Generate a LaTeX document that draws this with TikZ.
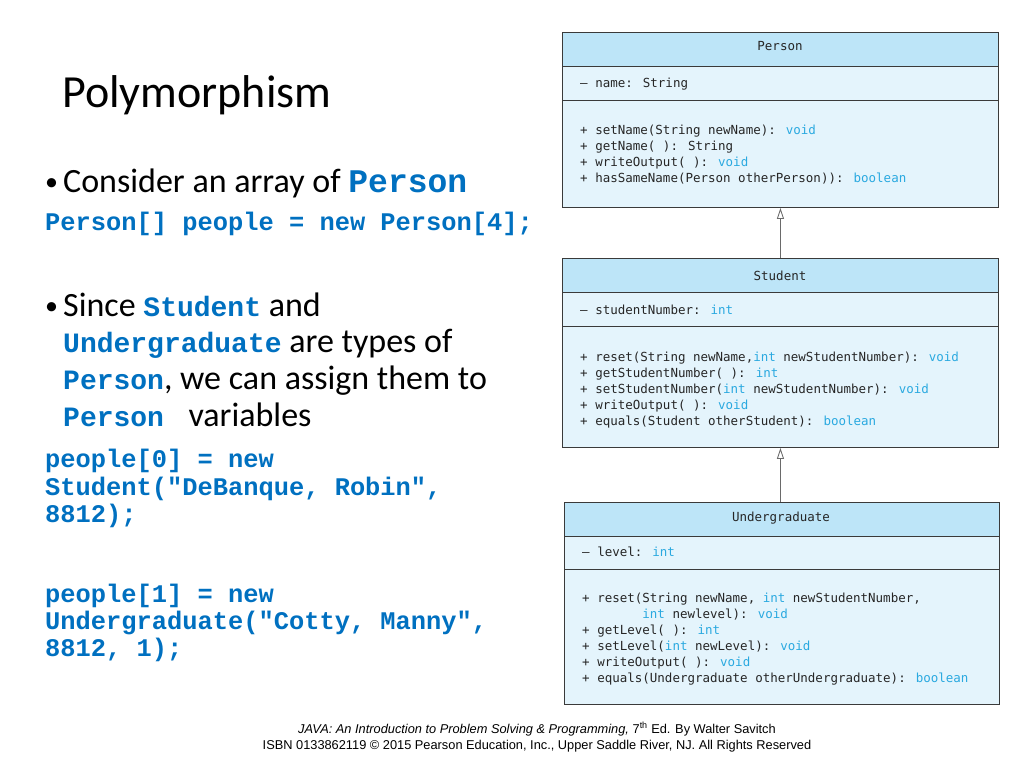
\documentclass[tikz,border=0pt]{standalone}
\usepackage{fontspec}
\setmainfont{Carlito}
\newfontfamily\codefont{Liberation Mono}
\newfontfamily\umlfont{DejaVu Sans Mono}
\newfontfamily\arialfont{Liberation Sans}
\usetikzlibrary{arrows.meta}
\definecolor{umlhead}{HTML}{BDE5F8}
\definecolor{umlbody}{HTML}{E4F4FC}
\definecolor{umlline}{HTML}{3A3A3A}
\definecolor{kwblue}{HTML}{2AA9E0}
\definecolor{umltxt}{HTML}{262626}
\definecolor{codeblue}{HTML}{0070C0}
\definecolor{arrowgray}{HTML}{6A6A6A}
\newcommand\kw[1]{\textcolor{kwblue}{#1}}
\newcommand\ic[1]{{\codefont\bfseries\fontsize{28}{28}\selectfont\color{codeblue}#1}}
\newcommand\icbig[1]{{\codefont\bfseries\fontsize{33}{33}\selectfont\color{codeblue}#1}}
\tikzset{
  umlframe/.style={draw=umlline, line width=0.9pt, anchor=north west, inner sep=0pt, minimum width=436pt},
  umltext/.style={font=\umlfont\fontsize{12.5}{16}\selectfont, text=umltxt, anchor=base west, inner sep=0pt},
  umltitle/.style={font=\umlfont\fontsize{12.5}{16}\selectfont, text=umltxt, anchor=base, inner sep=0pt},
  inherit/.style={draw=arrowgray, line width=0.9pt, -{Triangle[open, length=11pt, width=7pt]}},
  body/.style={font=\fontsize{34}{40}\selectfont, anchor=base west, inner sep=0pt},
  bullet/.style={font=\fontsize{26}{30}\selectfont, anchor=base west, inner sep=0pt},
  code/.style={font=\codefont\bfseries\fontsize{25.4}{28}\selectfont, text=codeblue, anchor=base west, inner sep=0pt},
  foot/.style={font=\arialfont\fontsize{12.8}{14}\selectfont, anchor=base, inner sep=0pt},
}
\begin{document}
\begin{tikzpicture}[x=1pt, y=-1pt]
\useasboundingbox (0,0) rectangle (1024,768);

% ---------- left text ----------
\node[anchor=base west, inner sep=0pt, font=\fontsize{46}{50}\selectfont] (title) at (62,107) {Polymorphism};
\node[bullet] (b1) at (45,190) {•};
\node[body] (t1) at (63,192) {Consider an array of \icbig{Person}};
\node[code] (c0) at (45,230) {Person[] people = new Person[4];};
\node[bullet] (b2) at (45,314) {•};
\node[body] (t2a) at (63,316) {Since \ic{Student} and};
\node[body] (t2b) at (63,352) {\ic{Undergraduate} are types of};
\node[body] (t2c) at (63,389) {\ic{Person}, we can assign them to};
\node[body] (t2d) at (63,426) {\ic{Person } variables};
\node[code] (c1) at (45,467) {people[0] = new};
\node[code] (c2) at (45,495) {Student("DeBanque, Robin",};
\node[code] (c3) at (45,522) {8812);};
\node[code] (c4) at (45,602) {people[1] = new};
\node[code] (c5) at (45,629) {Undergraduate("Cotty, Manny",};
\node[code] (c6) at (45,656) {8812, 1);};

% ---------- Person ----------
\fill[umlbody] (562,32) rectangle (998,207);
\fill[umlhead] (562,32) rectangle (998,66);
\draw[umlline, line width=0.9pt] (562,66) -- (998,66) (562,100) -- (998,100);
\node[umlframe, minimum height=175pt] (person) at (562,32) {};
\node[umltitle] (personh) at (780,51) {Person};
\node[umltext] (pa) at (580,87) {– name: String};
\foreach \t [count=\i from 0] in {
  {+ setName(String newName): \kw{void}},
  {+ getName( ): String},
  {+ writeOutput( ): \kw{void}},
  {+ hasSameName(Person otherPerson)): \kw{boolean}}}
  \node[umltext] (pm\i) at (580,134+16*\i) {\t};

% ---------- Student ----------
\fill[umlbody] (562,258) rectangle (998,447);
\fill[umlhead] (562,258) rectangle (998,292);
\draw[umlline, line width=0.9pt] (562,292) -- (998,292) (562,326) -- (998,326);
\node[umlframe, minimum height=189pt] (student) at (562,258) {};
\node[umltitle] (studenth) at (780,280) {Student};
\node[umltext] (sa) at (580,314) {– studentNumber: \kw{int}};
\foreach \t [count=\i from 0] in {
  {+ reset(String newName,\kw{int} newStudentNumber): \kw{void}},
  {+ getStudentNumber( ): \kw{int}},
  {+ setStudentNumber(\kw{int} newStudentNumber): \kw{void}},
  {+ writeOutput( ): \kw{void}},
  {+ equals(Student otherStudent): \kw{boolean}}}
  \node[umltext] (sm\i) at (580,361+16*\i) {\t};

% ---------- Undergraduate ----------
\fill[umlbody] (564,502) rectangle (999,704);
\fill[umlhead] (564,502) rectangle (999,536);
\draw[umlline, line width=0.9pt] (564,536) -- (999,536) (564,569) -- (999,569);
\node[umlframe, minimum width=435pt, minimum height=202pt] (undergrad) at (564,502) {};
\node[umltitle] (undergradh) at (781,521) {Undergraduate};
\node[umltext] (ua) at (582,556) {– level: \kw{int}};
\foreach \t [count=\i from 0] in {
  {+ reset(String newName, \kw{int} newStudentNumber,},
  {\phantom{+ reset(}\kw{int} newlevel): \kw{void}},
  {+ getLevel( ): \kw{int}},
  {+ setLevel(\kw{int} newLevel): \kw{void}},
  {+ writeOutput( ): \kw{void}},
  {+ equals(Undergraduate otherUndergraduate): \kw{boolean}}}
  \node[umltext] (um\i) at (582,602+16*\i) {\t};

% ---------- inheritance ----------
\draw[inherit] (student.north) -- (person.south);
\draw[inherit] (undergrad.north -| student.south) -- (student.south);

% ---------- footer ----------
\node[foot] (f1) at (537,733) {\itshape JAVA: An Introduction to Problem Solving \& Programming, \upshape 7\textsuperscript{th} Ed. By Walter Savitch};
\node[foot] (f2) at (537,749) {ISBN 0133862119 © 2015 Pearson Education, Inc., Upper Saddle River, NJ. All Rights Reserved};
\end{tikzpicture}
\end{document}
